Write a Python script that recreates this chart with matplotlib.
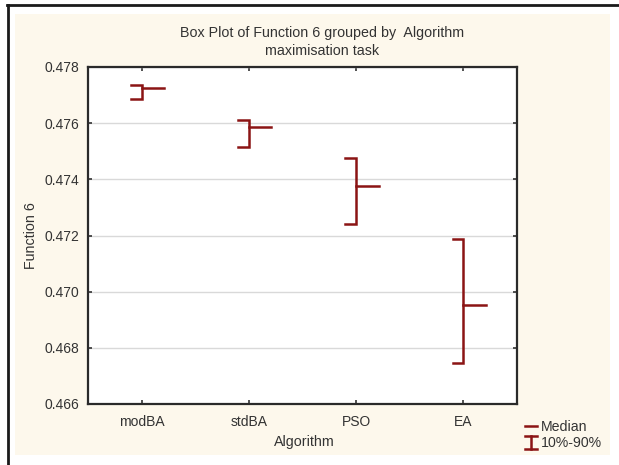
import matplotlib
matplotlib.use("Agg")
import matplotlib.pyplot as plt
from matplotlib.patches import Rectangle
from matplotlib.lines import Line2D

algorithms = ["modBA", "stdBA", "PSO", "EA"]
p90 = [0.47736, 0.47611, 0.47476, 0.47188]
median = [0.47725, 0.47585, 0.47376, 0.46952]
p10 = [0.47685, 0.47515, 0.47242, 0.46747]
yticks = [0.466, 0.468, 0.470, 0.472, 0.474, 0.476, 0.478]

W, H = 619, 465
plt.rcParams['font.family'] = ['Liberation Sans', 'DejaVu Sans']
fig = plt.figure(figsize=(W / 100, H / 100), dpi=100, facecolor='white')

def fx(x):
    return x / W

def fy(y):
    return 1 - y / H

cream = '#FDF8EC'
txt = '#333333'
fig.patches.append(Rectangle((fx(15), fy(455)), fx(610) - fx(15), fy(14) - fy(455),
                             transform=fig.transFigure, facecolor=cream, edgecolor='none', zorder=-5))
fig.lines.append(Line2D([fx(7), fx(619)], [fy(5), fy(5)], transform=fig.transFigure, color='#1a1a1a', lw=2))
fig.lines.append(Line2D([fx(8), fx(8)], [fy(5), fy(465)], transform=fig.transFigure, color='#1a1a1a', lw=2))

ax = fig.add_axes([fx(88), fy(404), fx(517) - fx(88), fy(67) - fy(404)])
ax.set_zorder(1)
ax.set_facecolor('white')
col = '#8B1414'
cap = 0.10
med = 0.21
for i, (hi, m, lo) in enumerate(zip(p90, median, p10)):
    ax.plot([i - cap, i, i, i - cap], [hi, hi, lo, lo], color=col, lw=1.8, solid_joinstyle='miter', zorder=3)
    ax.plot([i, i + med], [m, m], color=col, lw=1.8, zorder=3)

ax.set_xlim(-0.5, 3.5)
ax.set_ylim(0.466, 0.478)
ax.set_yticks(yticks)
ax.set_yticklabels([f"{v:.3f}" for v in yticks])
ax.set_xticks(range(len(algorithms)))
ax.set_xticklabels(algorithms)
ax.yaxis.grid(True, color='#D9D9D9', lw=1)
ax.set_axisbelow(True)
ax.tick_params(direction='in', length=3, width=1.2, top=True, right=True, labelsize=10, colors=txt, pad=6)
ax.tick_params(axis='x', pad=8)
for s in ax.spines.values():
    s.set_linewidth(1.6)
    s.set_color('#2a2a2a')

fig.text(fx(322), fy(33), "Box Plot of Function 6 grouped by  Algorithm", ha='center', va='center', fontsize=10.3, color=txt)
fig.text(fx(322), fy(51), "maximisation task", ha='center', va='center', fontsize=10.3, color=txt)
fig.text(fx(31), fy(236), "Function 6", ha='center', va='center', rotation=90, fontsize=10.3, color=txt)
fig.text(fx(304), fy(442), "Algorithm", ha='center', va='center', fontsize=10.3, color=txt)

# legend
fig.lines.append(Line2D([fx(525), fx(537)], [fy(426), fy(426)], transform=fig.transFigure, color=col, lw=1.8))
fig.text(fx(541), fy(427), "Median", ha='left', va='center', fontsize=10.2, color=txt)
fig.lines.append(Line2D([fx(525), fx(537)], [fy(436), fy(436)], transform=fig.transFigure, color=col, lw=1.8))
fig.lines.append(Line2D([fx(525), fx(537)], [fy(449), fy(449)], transform=fig.transFigure, color=col, lw=1.8))
fig.lines.append(Line2D([fx(531), fx(531)], [fy(436), fy(449)], transform=fig.transFigure, color=col, lw=1.8))
fig.text(fx(541), fy(443), "10%-90%", ha='left', va='center', fontsize=10.2, color=txt)

fig.savefig("out.png", dpi=100, facecolor='white')
